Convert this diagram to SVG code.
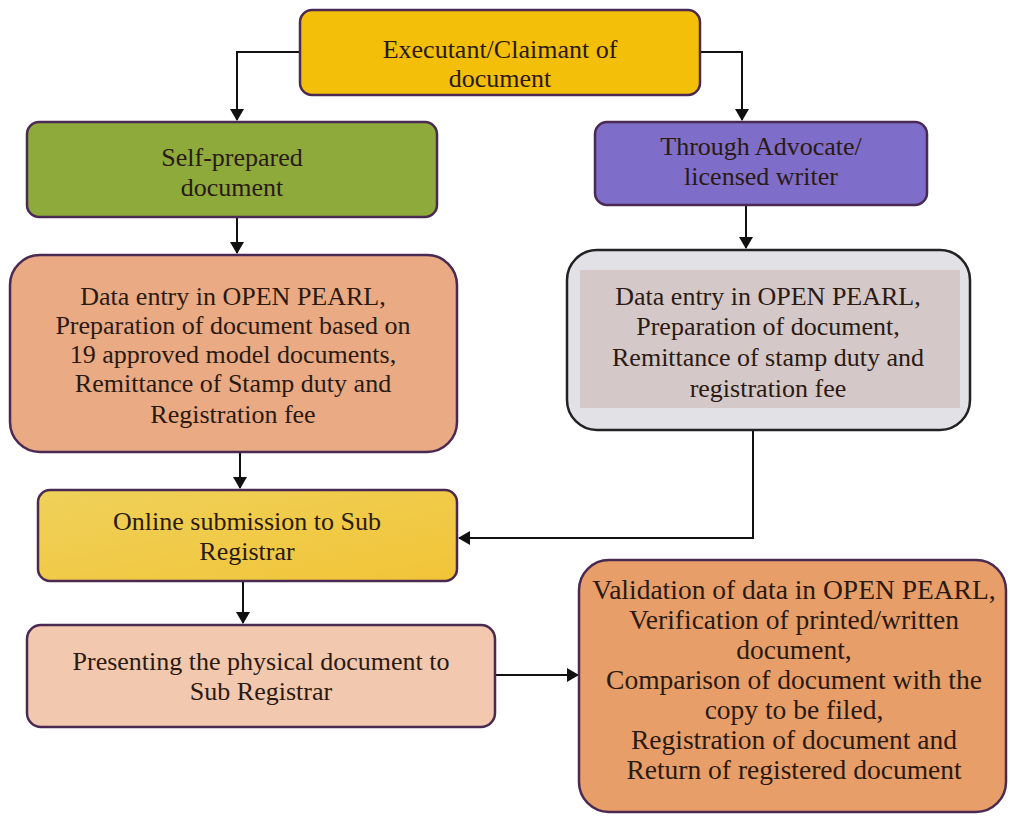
<svg xmlns="http://www.w3.org/2000/svg" width="1010" height="816" viewBox="0 0 1010 816">
<defs>
<marker id="ahv" markerWidth="12" markerHeight="14" refX="11" refY="7" orient="auto" markerUnits="userSpaceOnUse">
<path d="M0,0 L12,7 L0,14 Z" fill="#111"/>
</marker>
<linearGradient id="gYellow" x1="0" y1="0" x2="1" y2="1">
<stop offset="0" stop-color="#EFD15A"/>
<stop offset="1" stop-color="#F2C437"/>
</linearGradient>
</defs>
<style>
text{font-family:"Liberation Serif","Times New Roman",serif;font-size:26px;fill:#2a1a12;text-anchor:middle}
.big{font-size:27.5px}
.box{stroke:#4a2a52;stroke-width:2.5}
.conn{fill:none;stroke:#111;stroke-width:2}
</style>
<rect width="1010" height="816" fill="#ffffff"/>
<g id="connectors">
<path class="conn" d="M300,52 H237 V120" marker-end="url(#ahv)"/>
<path class="conn" d="M700,52 H742 V120" marker-end="url(#ahv)"/>
<path class="conn" d="M237,217 V253" marker-end="url(#ahv)"/>
<path class="conn" d="M746,205 V248" marker-end="url(#ahv)"/>
<path class="conn" d="M240,452 V488" marker-end="url(#ahv)"/>
<path class="conn" d="M753,430 V538 H459" marker-end="url(#ahv)"/>
<path class="conn" d="M243,581 V623" marker-end="url(#ahv)"/>
<path class="conn" d="M495,675 H578" marker-end="url(#ahv)"/>
</g>
<g id="executant">
<rect class="box" x="300" y="10" width="400" height="85" rx="12" fill="#F3BF08"/>
<text x="500" y="58">Executant/Claimant of</text>
<text x="500" y="87">document</text>
</g>
<g id="self-prepared">
<rect class="box" x="27" y="122" width="410" height="95" rx="12" fill="#8DAA3B"/>
<text x="232" y="166">Self-prepared</text>
<text x="232" y="196">document</text>
</g>
<g id="advocate">
<rect class="box" x="595" y="122" width="332" height="83" rx="12" fill="#7E6DC9"/>
<text x="761" y="155">Through Advocate/</text>
<text x="761" y="185">licensed writer</text>
</g>
<g id="data-entry-self">
<rect class="box" x="10" y="255" width="447" height="197" rx="30" fill="#E9AA84"/>
<text x="233" y="305">Data entry in OPEN PEARL,</text>
<text x="233" y="334">Preparation of document based on</text>
<text x="233" y="363">19 approved model documents,</text>
<text x="233" y="392">Remittance of Stamp duty and</text>
<text x="233" y="423">Registration fee</text>
</g>
<g id="data-entry-advocate">
<rect x="567" y="250" width="403" height="180" rx="30" fill="#E2E2E6" stroke="#222" stroke-width="2.5"/>
<rect x="580" y="270" width="380" height="138" fill="#D5C8C9"/>
<text x="768" y="305">Data entry in OPEN PEARL,</text>
<text x="768" y="335">Preparation of document,</text>
<text x="768" y="366">Remittance of stamp duty and</text>
<text x="768" y="397">registration fee</text>
</g>
<g id="online-submission">
<rect class="box" x="38" y="490" width="419" height="91" rx="12" fill="url(#gYellow)"/>
<text x="247" y="530">Online submission to Sub</text>
<text x="247" y="560">Registrar</text>
</g>
<g id="presenting">
<rect class="box" x="27" y="625" width="468" height="102" rx="14" fill="#F2C8AE"/>
<text x="261" y="670">Presenting the physical document to</text>
<text x="261" y="700">Sub Registrar</text>
</g>
<g id="validation">
<rect class="box" x="579" y="560" width="427" height="252" rx="30" fill="#E89E68"/>
<text class="big" x="794" y="599">Validation of data in OPEN PEARL,</text>
<text class="big" x="794" y="629">Verification of printed/written</text>
<text class="big" x="794" y="659">document,</text>
<text class="big" x="794" y="689">Comparison of document with the</text>
<text class="big" x="794" y="719">copy to be filed,</text>
<text class="big" x="794" y="749">Registration of document and</text>
<text class="big" x="794" y="779">Return of registered document</text>
</g>
</svg>
